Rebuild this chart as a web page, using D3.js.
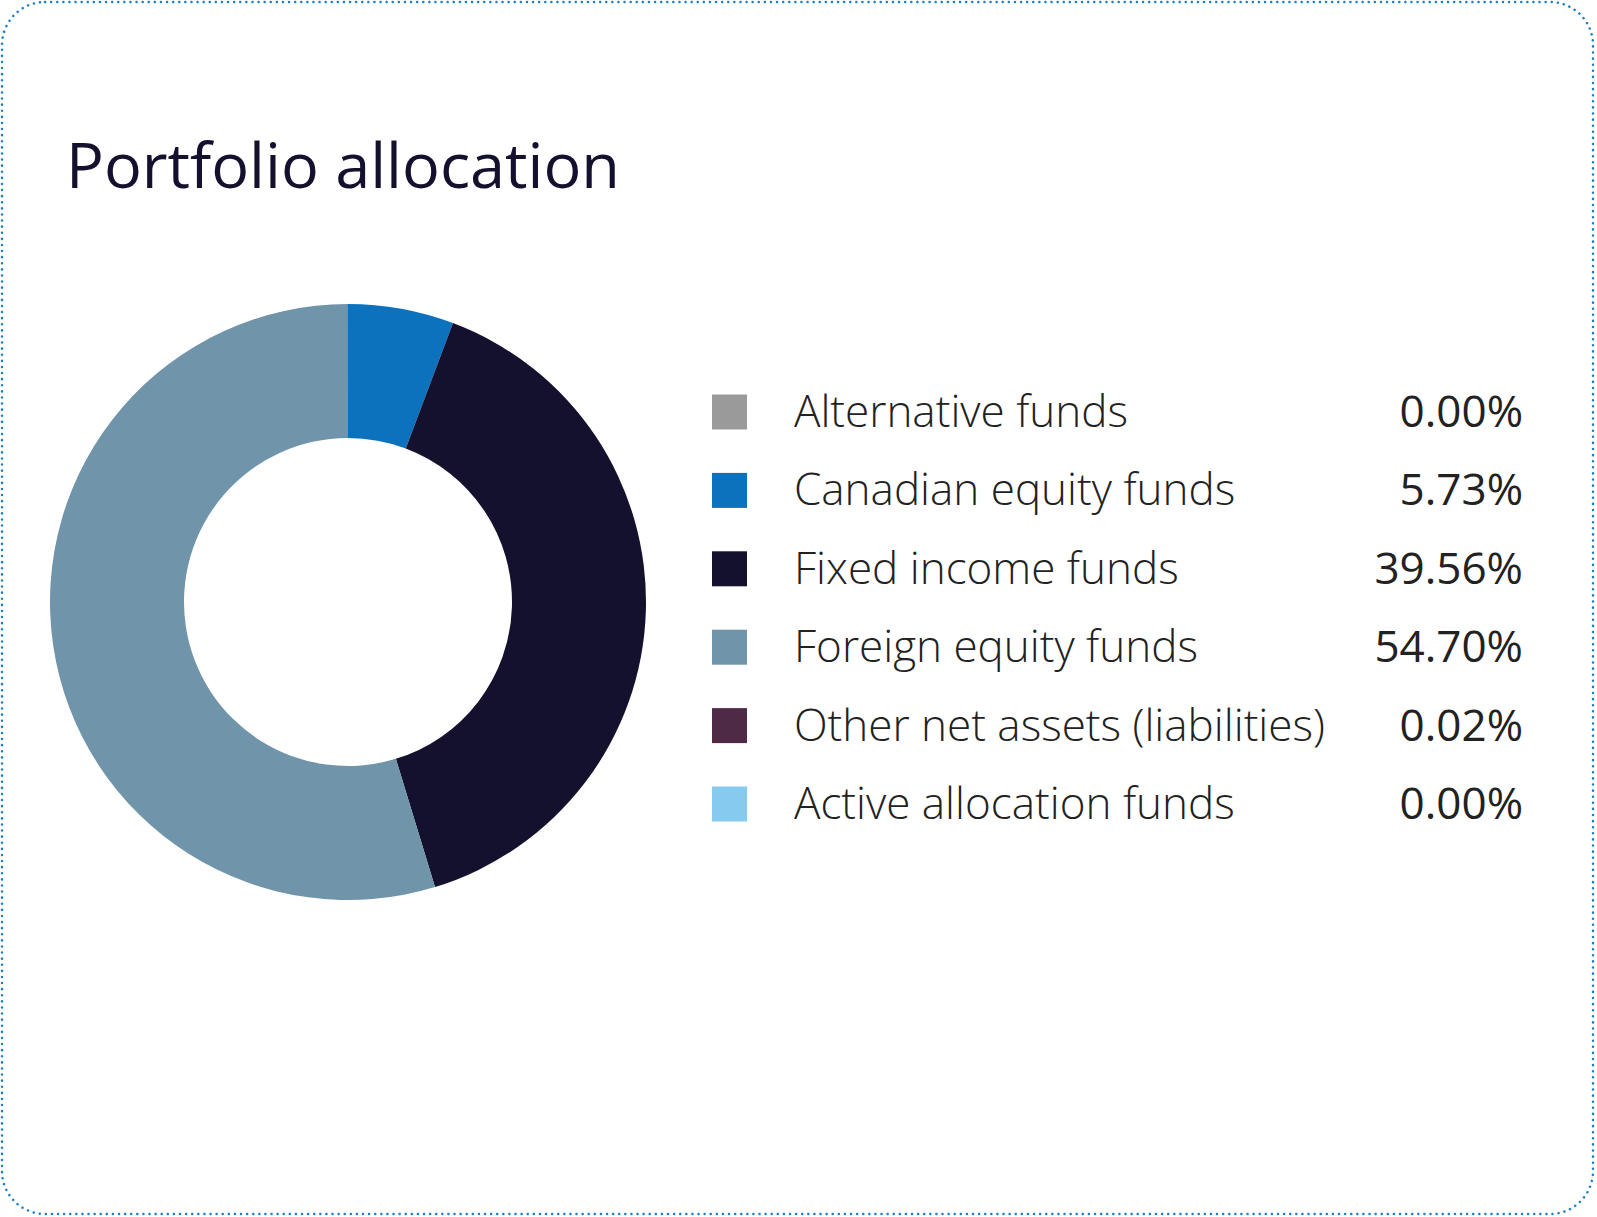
<!DOCTYPE html>
<html><head><meta charset="utf-8">
<script src="https://cdn.jsdelivr.net/npm/d3@7"></script>
<style>body{margin:0;background:#fff}svg{display:block}</style>
</head><body>
<script>
const categories = ["Alternative funds","Canadian equity funds","Fixed income funds","Foreign equity funds","Other net assets (liabilities)","Active allocation funds"];
const values = [0.00, 5.73, 39.56, 54.70, 0.02, 0.00];
const labels = ["0.00%","5.73%","39.56%","54.70%","0.02%","0.00%"];
const colors = ["#9a9a9a","#0d72bd","#13112e","#7094aa","#4e2a47","#86cbef"];

const W=1597,H=1217;
const svg=d3.select("body").append("svg").attr("width",W).attr("height",H);
svg.append("rect").attr("x",2).attr("y",2).attr("width",1591).attr("height",1212)
  .attr("rx",43).attr("fill","#fff").attr("stroke","#1f7fc4").attr("stroke-width",2.5)
  .attr("stroke-dasharray","0.1,6").attr("stroke-linecap","round");
svg.append("text").attr("x",66).attr("y",188).text("Portfolio allocation")
  .attr("font-family","Open Sans").attr("font-size",63).attr("fill","#13112e");

const pie=d3.pie().sort(null).value(d=>d)(values);
const arc=d3.arc().innerRadius(164).outerRadius(298);
svg.append("g").attr("transform","translate(348,602)").selectAll("path").data(pie).join("path")
  .attr("d",arc).attr("fill",(d,i)=>colors[i]);

const y=d3.scalePoint().domain(categories).range([412,804]);
const lg=svg.append("g");
categories.forEach((c,i)=>{
  lg.append("rect").attr("x",712).attr("y",y(c)-17.5).attr("width",35).attr("height",35).attr("fill",colors[i]);
  lg.append("text").attr("x",794).attr("y",y(c)+15).text(c)
    .attr("font-family","Open Sans").attr("font-weight",300).attr("font-size",44).attr("fill","#222");
  lg.append("text").attr("x",1523).attr("y",y(c)+15).attr("text-anchor","end").text(labels[i])
    .attr("font-family","Open Sans").attr("font-size",44).attr("fill","#222");
});
</script>
</body></html>
